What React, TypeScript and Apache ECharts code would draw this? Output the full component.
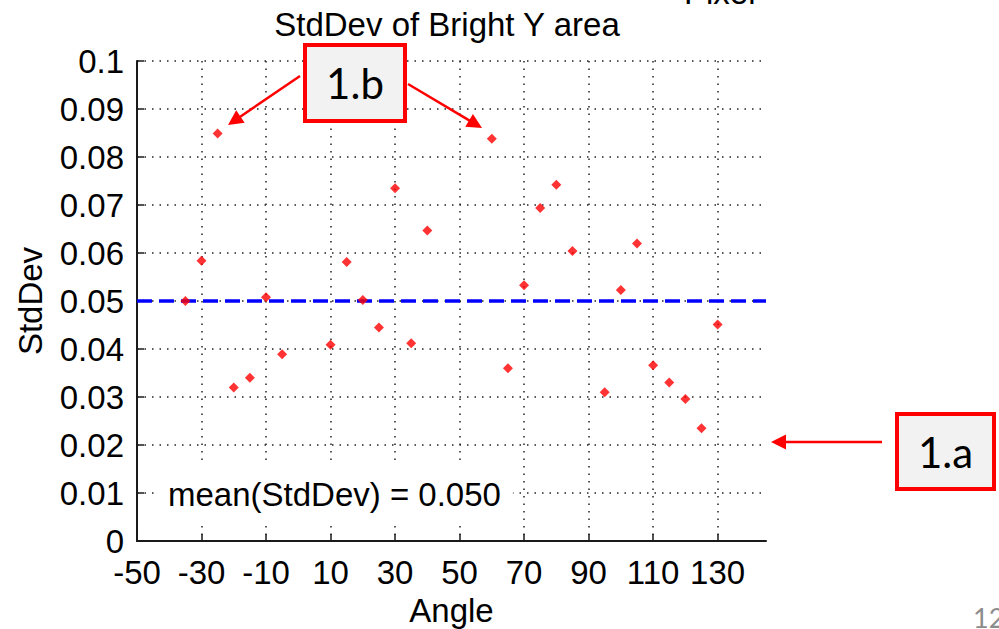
import { useEffect, useRef } from "react";
import * as echarts from "echarts";

// Scan angle (degrees) and standard deviation of the bright Y region
const angles = [
  -35, -30, -25, -20, -15, -10, -5,
  10, 15, 20, 25, 30, 35, 40,
  60, 65, 70, 75, 80, 85,
  95, 100, 105, 110, 115, 120, 125, 130,
];
const stdDevs = [
  0.05, 0.0584, 0.0849, 0.032, 0.034, 0.0508, 0.0389,
  0.0409, 0.0581, 0.0502, 0.0445, 0.0735, 0.0412, 0.0647,
  0.0838, 0.036, 0.0533, 0.0694, 0.0742, 0.0604,
  0.031, 0.0523, 0.062, 0.0366, 0.033, 0.0296, 0.0235, 0.0451,
];
const angleTicks = [-50, -30, -10, 10, 30, 50, 70, 90, 110, 130];
const angleMin = -50;
const angleMax = 145;
const stdDevMin = 0;
const stdDevMax = 0.1;
const stdDevStep = 0.01;

const meanStdDev = stdDevs.reduce((s, v) => s + v, 0) / stdDevs.length;

const FONT = '"Liberation Sans", Arial, Helvetica, sans-serif';
const CALLOUT_FONT = 'Lato, "Open Sans", sans-serif';
const RED = "#ff0000";
const AXIS_COLOR = "#1a1a1a";

const dotted = { color: "#222", width: 1.5, type: [1.5, 6] as number[] };

function arrow(x1: number, y1: number, x2: number, y2: number) {
  const dx = x2 - x1;
  const dy = y2 - y1;
  const len = Math.hypot(dx, dy);
  const ux = dx / len;
  const uy = dy / len;
  const headLen = 15;
  const half = 7.5;
  const bx = x2 - ux * headLen;
  const by = y2 - uy * headLen;
  return [
    {
      type: "line",
      shape: { x1, y1, x2: bx + ux * 2, y2: by + uy * 2 },
      style: { stroke: RED, lineWidth: 2.5 },
      z: 100,
    },
    {
      type: "polygon",
      shape: {
        points: [
          [x2, y2],
          [bx - uy * half, by + ux * half],
          [bx + uy * half, by - ux * half],
        ],
      },
      style: { fill: RED },
      z: 100,
    },
  ];
}

function callout(x: number, y: number, w: number, h: number, label: string) {
  return [
    {
      type: "rect",
      shape: { x, y, width: w, height: h },
      style: { fill: "#f2f2f2", stroke: RED, lineWidth: 4 },
      z: 100,
    },
    {
      type: "text",
      x: x + w / 2,
      y: y + h / 2,
      style: {
        text: label,
        fontFamily: CALLOUT_FONT,
        fontSize: 42,
        fill: "#000",
        align: "center",
        verticalAlign: "middle",
      },
      z: 101,
    },
  ];
}

export default function App() {
  const ref = useRef<HTMLDivElement>(null);

  useEffect(() => {
    if (!ref.current) return;
    const chart = echarts.init(ref.current, null, { renderer: "svg" });

    chart.setOption({
      animation: false,
      backgroundColor: "#ffffff",
      grid: { left: 137, right: 233, top: 61, bottom: 88, outerBoundsMode: "none" },
      xAxis: {
        type: "value",
        min: angleMin,
        max: angleMax,
        name: "Angle",
        nameLocation: "middle",
        nameGap: 51,
        nameTextStyle: { fontFamily: FONT, fontSize: 33, color: "#000" },
        axisLine: { show: true, onZero: false, lineStyle: { color: AXIS_COLOR, width: 2 } },
        axisTick: {
          show: true,
          inside: true,
          length: 7,
          customValues: angleTicks,
          lineStyle: { color: AXIS_COLOR, width: 1.5 },
        },
        axisLabel: {
          customValues: angleTicks,
          margin: 15,
          fontFamily: FONT,
          fontSize: 33,
          color: "#000",
        },
        splitLine: { show: true, lineStyle: dotted },
      },
      yAxis: {
        type: "value",
        min: stdDevMin,
        max: stdDevMax,
        interval: stdDevStep,
        name: "StdDev",
        nameLocation: "middle",
        nameGap: 90,
        nameRotate: 90,
        nameTextStyle: { fontFamily: FONT, fontSize: 33, color: "#000" },
        axisLine: { show: true, onZero: false, lineStyle: { color: AXIS_COLOR, width: 2 } },
        axisTick: {
          show: true,
          inside: true,
          length: 7,
          lineStyle: { color: AXIS_COLOR, width: 1.5 },
        },
        axisLabel: {
          margin: 13,
          fontFamily: FONT,
          fontSize: 33,
          color: "#000",
          formatter: (v: number) => String(Math.round(v * 100) / 100),
        },
        splitLine: { show: true, lineStyle: dotted },
      },
      series: [
        {
          type: "scatter",
          data: angles.map((a, i) => [a, stdDevs[i]]),
          symbol: "diamond",
          symbolSize: 10,
          itemStyle: { color: RED },
          z: 4,
          markLine: {
            silent: true,
            symbol: "none",
            label: { show: false },
            lineStyle: { color: "#0000ff", width: 3.5, type: [15, 7] },
            data: [{ yAxis: meanStdDev }],
            z: 3,
          },
        },
      ],
      graphic: [
        {
          type: "text",
          x: 447,
          y: 24,
          style: {
            text: "StdDev of Bright Y area",
            fontFamily: FONT,
            fontSize: 33,
            fill: "#000",
            align: "center",
            verticalAlign: "middle",
          },
        },
        {
          type: "text",
          x: 684,
          y: -8,
          style: {
            text: "Pixel",
            fontFamily: FONT,
            fontSize: 33,
            fill: "#000",
            align: "left",
            verticalAlign: "middle",
          },
        },
        {
          type: "text",
          x: 158,
          y: 494,
          style: {
            text: `mean(StdDev) = ${meanStdDev.toFixed(3)}`,
            fontFamily: FONT,
            fontSize: 33,
            fill: "#000",
            align: "left",
            verticalAlign: "middle",
            backgroundColor: "#ffffff",
            padding: [12, 12, 12, 10],
          },
          z: 50,
        },
        ...callout(305, 45, 100, 76, "1.b"),
        ...arrow(300, 76, 228, 125),
        ...arrow(408, 84, 482, 128),
        ...callout(897, 414, 97, 75, "1.a"),
        ...arrow(882, 442, 771, 442),
        {
          type: "text",
          x: 973,
          y: 617,
          style: {
            text: "12",
            fontFamily: CALLOUT_FONT,
            fontSize: 27,
            fill: "#8c8c8c",
            align: "left",
            verticalAlign: "middle",
          },
        },
      ],
    });

    return () => chart.dispose();
  }, []);

  return (
    <div
      ref={ref}
      style={{ position: "absolute", left: 0, top: 0, width: 999, height: 629 }}
    />
  );
}
